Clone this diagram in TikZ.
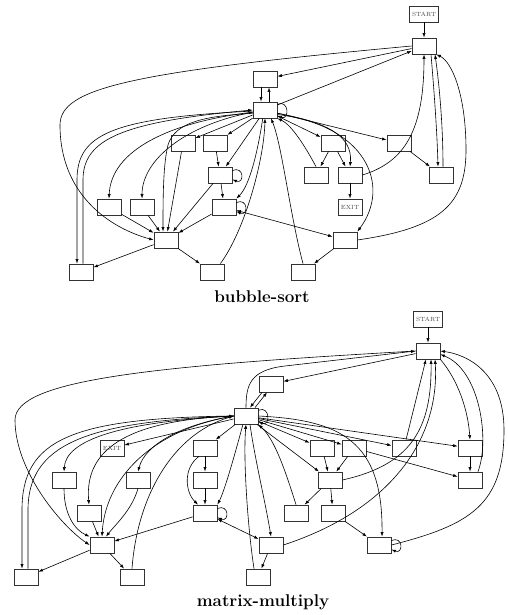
\documentclass[tikz,border=0pt]{standalone}
\usetikzlibrary{arrows.meta}
\begin{document}
\begin{tikzpicture}[x=1pt, y=-1pt, >={Latex[length=4.5pt,width=3.2pt]}, line width=0.6pt,
  blk/.style={draw=black!80, line width=0.8pt, minimum width=24pt, minimum height=16pt, inner sep=0pt},
  tag/.style={blk, font=\fontsize{6}{6}\selectfont, text=black!70},
  ttl/.style={anchor=base, font=\fontsize{17}{17}\selectfont\bfseries}]

  \useasboundingbox (0,0) rectangle (507,615);

  %% bubble-sort
  \node[tag, minimum width=29pt] (bstart) at (424,14) {START};
  \node[blk] (bu1) at (424,46) {};
  \node[blk] (bu2) at (265,79) {};
  \node[blk] (bh) at (265,110) {};
  \node[blk] (br1a) at (183,143) {};
  \node[blk] (br1b) at (215,143) {};
  \node[blk] (br1c) at (333,143) {};
  \node[blk] (br1d) at (399,143) {};
  \node[blk] (br2a) at (220,175) {};
  \node[blk] (br2b) at (316,175) {};
  \node[blk] (br2c) at (350,175) {};
  \node[blk] (br2d) at (441,175) {};
  \node[blk] (br3a) at (109,207) {};
  \node[blk] (br3b) at (142,207) {};
  \node[blk] (br3c) at (224,207) {};
  \node[tag] (bx) at (350,207) {EXIT};
  \node[blk] (br4a) at (166,240) {};
  \node[blk] (br4b) at (345,240) {};
  \node[blk] (br5a) at (81,272) {};
  \node[blk] (br5b) at (212,272) {};
  \node[blk] (br5c) at (303,272) {};
  \node[ttl] (btitle) at (262,302) {bubble-sort};

  \draw[->] (bstart) -- (bu1); %% start->u1
  \draw[->] (bu1) -- (bu2); %% u1->u2
  \draw[->] (bh) -- (bu1); %% h->u1
  \draw[->] (bu1.west) .. controls (130,72) and (60,88) .. (60,125) .. controls (60,195) and (110,228) .. (br4a.west); %% u1->4a
  \draw[->] ([xshift=-4pt]bu2.south) -- ([xshift=-4pt]bh.north); %% u2->h
  \draw[->] ([xshift=4pt]bh.north) -- ([xshift=4pt]bu2.south); %% h->u2
  \draw[->] (bh.25) .. controls +(12,-5) and +(12,5) .. (bh.-25); %% h->h
  \draw[->] (bh) -- (br1a);
  \draw[->] (bh) -- (br1b);
  \draw[->] (bh) -- (br2a);
  \draw[->] (br1b) -- (br2a);
  \draw[->] (br2a.20) .. controls +(12,-5) and +(12,5) .. (br2a.-20); %% 2a->2a
  \draw[->] (br2a) -- (br3c);
  \draw[->] (br2a) -- (br4a);
  \draw[->] (br3c.20) .. controls +(12,-5) and +(12,5) .. (br3c.-20); %% 3c->3c
  \draw[->] (bh.255) .. controls (258,150) and (250,185) .. (br3c.north east); %% h->3c
  \draw[->] ([xshift=-4pt]br5b.north east) .. controls (245,230) and (264,160) .. (bh.south); %% 5b->h
  \draw[->] (br5c.north) .. controls (290,215) and (282,145) .. ([xshift=6pt]bh.south); %% 5c->h
  \draw[->] (br2b.north) .. controls (306,148) and (292,125) .. (bh.south east); %% 2b->h
  \draw[->] (bh) -- (br1c);
  \draw[->] (bh.-15) .. controls (325,122) and (353,135) .. (br2c.north); %% h->2c
  \draw[->] (bh.-20) .. controls (365,125) and (392,185) .. (br4b.north east); %% h->4b
  \draw[->] (bh) -- (br1d);
  \draw[->] (br1c) -- (br2b);
  \draw[->] (br1c) -- (br2c);
  \draw[->] (br2c) -- (bx);
  \draw[->] (br2c.east) .. controls (405,162) and (424,130) .. (bu1.south); %% 2c->u1
  \draw[->] ([xshift=7pt]bu1.south) .. controls (434,90) and (437,130) .. ([xshift=-3pt]br2d.north); %% u1->2d
  \draw[->] ([xshift=2pt]br2d.north) .. controls (443,130) and (440,90) .. ([xshift=11pt]bu1.south); %% 2d->u1
  \draw[->] (br1d) -- (br2d);
  \draw[->] (br4b.east) .. controls (440,228) and (466,205) .. (466,150) .. controls (466,95) and (452,62) .. (bu1.south east); %% 4b->u1
  \draw[->] (bh.190) .. controls (170,122) and (111,150) .. (br3a.north); %% h->3a
  \draw[->] (bh.190) .. controls (185,125) and (142,160) .. (br3b.north); %% h->3b
  \draw[->] (bh.195) .. controls (205,116) and (175,122) .. (168,145) .. controls (163,165) and (163,200) .. ([xshift=-3pt]br4a.north); %% h->4a
  \draw[->] (bh.185) .. controls (110,118) and (77,135) .. (77,180) -- ([xshift=-4pt]br5a.north); %% h->5a
  \draw[->] ([xshift=2pt]br5a.north) -- (83,180) .. controls (83,140) and (120,122) .. (bh.180); %% 5a->h
  \draw[->] (br1a) -- (br4a);
  \draw[->] (br3a) -- (br4a);
  \draw[->] (br3b) -- (br4a);
  \draw[->] (br3c) -- (br4a);
  \draw[<->] (br3c) -- (br4b);
  \draw[->] (br4a) -- (br5a);
  \draw[->] (br4a) -- (br5b);
  \draw[->] (br4b) -- (br5c);

  %% matrix-multiply
  \node[tag, minimum width=29pt] (mstart) at (428,319) {START};
  \node[blk] (mu1) at (428,351) {};
  \node[blk] (mu2) at (271,384) {};
  \node[blk] (mh) at (246,416) {};
  \node[tag] (mx) at (112,448) {EXIT};
  \node[blk] (mr1a) at (205,448) {};
  \node[blk] (mr1b) at (322,448) {};
  \node[blk] (mr1c) at (354,448) {};
  \node[blk] (mr1d) at (404,448) {};
  \node[blk] (mr1e) at (470,448) {};
  \node[blk] (mr2a) at (64,480) {};
  \node[blk] (mr2b) at (138,480) {};
  \node[blk] (mr2c) at (205,480) {};
  \node[blk] (mr2d) at (330,480) {};
  \node[blk] (mr2e) at (470,480) {};
  \node[blk] (mr3a) at (89,513) {};
  \node[blk] (mr3b) at (205,513) {};
  \node[blk] (mr3c) at (296,513) {};
  \node[blk] (mr3d) at (333,513) {};
  \node[blk] (mr4a) at (102,545) {};
  \node[blk] (mr4b) at (271,545) {};
  \node[blk] (mr4c) at (379,545) {};
  \node[blk] (mr5a) at (26,577) {};
  \node[blk] (mr5b) at (132,577) {};
  \node[blk] (mr5c) at (258,577) {};
  \node[ttl] (mtitle) at (263,606) {matrix-multiply};

  \draw[->] (mstart) -- (mu1); %% start->u1
  \draw[->] (mu1) -- (mu2); %% u1->u2
  \draw[->] (mh.north) .. controls (246,385) and (250,370) .. (285,366) -- (mu1.west); %% h->u1
  \draw[->] (mu1.west) .. controls (150,366) and (15,380) .. (15,420) .. controls (15,470) and (60,525) .. (mr4a.west); %% u1->4a
  \draw[->] ([xshift=-9pt]mu2.south) -- ([xshift=4pt]mh.north); %% u2->h
  \draw[->] ([xshift=9pt]mh.north) -- ([xshift=-4pt]mu2.south); %% h->u2
  \draw[->] (mh.25) .. controls +(12,-5) and +(12,5) .. (mh.-25); %% h->h
  \draw[->] (mh) -- (mx);
  \draw[->] (mh) -- (mr1a);
  \draw[->] (mh) -- (mr1b);
  \draw[->] (mh) -- (mr1c);
  \draw[->] (mh) -- (mr1d);
  \draw[->] (mh) -- (mr1e);
  \draw[->] (mh.west) .. controls (120,422) and (66,440) .. (mr2a.north); %% h->2a
  \draw[->] (mh.west) .. controls (135,420) and (84,445) .. (mr3a.north); %% h->3a
  \draw[->] (mh.west) .. controls (150,430) and (105,480) .. (mr4a.north); %% h->4a
  \draw[->] (mh.west) .. controls (180,425) and (145,445) .. (mr2b.north); %% h->2b
  \draw[->] (mr5b.north) .. controls (137,500) and (170,435) .. (mh.west); %% 5b->h
  \draw[->] (mh.west) .. controls (70,418) and (22,440) .. (22,510) -- ([xshift=-4pt]mr5a.north); %% h->5a
  \draw[->] ([xshift=2pt]mr5a.north) -- (28,510) .. controls (28,445) and (85,422) .. (mh.west); %% 5a->h
  \draw[->] (mh.250) .. controls (236,450) and (225,490) .. (mr3b.north east); %% h->3b
  \draw[->] (mr1a) -- (mr2c);
  \draw[->] (mr2c) -- (mr3b);
  \draw[->] ([xshift=-6pt]mr1a.south) .. controls (183,468) and (185,492) .. ([xshift=-7pt]mr3b.north); %% 1a->3b
  \draw[->] (mr3b.20) .. controls +(12,-5) and +(12,5) .. (mr3b.-20); %% 3b->3b
  \draw[->] (mr3b) -- (mr4a);
  \draw[<->] (mr3b) -- (mr4b);
  \draw[->] (mr2a.south) .. controls (64,515) and (75,530) .. (mr4a.north west); %% 2a->4a
  \draw[->] (mr3a) -- (mr4a);
  \draw[->] (mr2b.south) .. controls (132,510) and (115,525) .. ([xshift=4pt]mr4a.north); %% 2b->4a
  \draw[->] (mr4a) -- (mr5a);
  \draw[->] (mr4a) -- (mr5b);
  \draw[->] ([xshift=-4pt]mr5c.north) .. controls (248,530) and (243,460) .. (mh.south); %% 5c->h
  \draw[->] ([xshift=4pt]mh.south) .. controls (255,460) and (265,500) .. (mr4b.north); %% h->4b
  \draw[->] (mr4b) -- (mr5c);
  \draw[->] (mr3c.north) .. controls (285,470) and (275,440) .. (mh.south east); %% 3c->h
  \draw[->] (mh) -- (mr2d);
  \draw[->] (mr1b) -- (mr2d);
  \draw[->] (mr1c) -- (mr2d);
  \draw[->] (mr2d) -- (mr3c);
  \draw[->] (mr2d) -- (mr3d);
  \draw[->] (mr3d) -- (mr4c);
  \draw[->] (mh.east) .. controls (340,420) and (383,440) .. ([xshift=3pt]mr4c.north); %% h->4c
  \draw[->] (mr4c.20) .. controls +(12,-5) and +(12,5) .. (mr4c.-20); %% 4c->4c
  \draw[->] (mr4c.east) .. controls (470,525) and (504,505) .. (504,430) .. controls (504,375) and (470,355) .. (mu1.east); %% 4c->u1
  \draw[->] (mu1.south east) .. controls (458,380) and (468,410) .. (mr1e.north); %% u1->1e
  \draw[->] ([xshift=8pt]mr2e.north) .. controls (490,440) and (480,370) .. (mu1.-15); %% 2e->u1
  \draw[->] (mr1e) -- (mr2e);
  \draw[->] (mr1c) -- (mr2e);
  \draw[->] (mr1d) -- (mu1);
  \draw[->] (mr2d.east) .. controls (410,465) and (432,430) .. ([xshift=3pt]mu1.south); %% 2d->u1
  \draw[->] (mr4b.east) .. controls (390,510) and (440,440) .. ([xshift=7pt]mu1.south); %% 4b->u1
\end{tikzpicture}
\end{document}
